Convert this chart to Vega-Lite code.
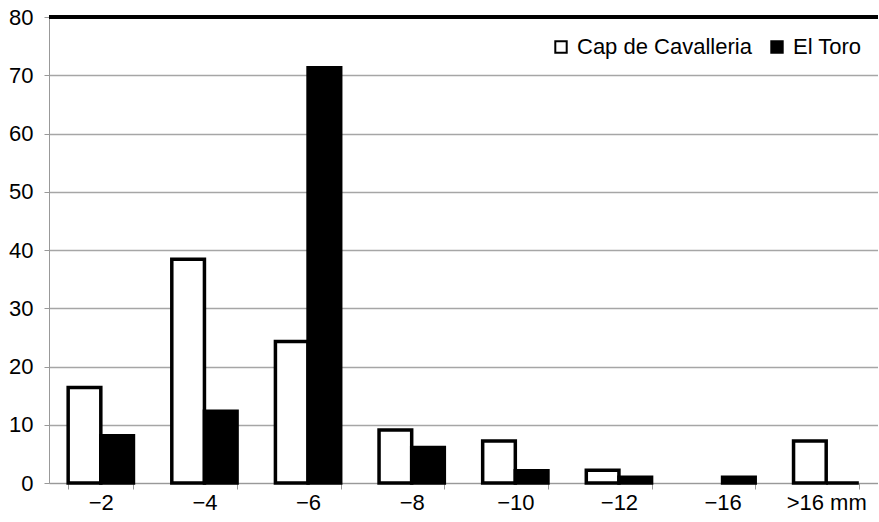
{
  "$schema": "https://vega.github.io/schema/vega-lite/v6.json",
  "width": 829,
  "height": 466,
  "autosize": {"type": "none"},
  "padding": {"left": 49, "top": 17, "right": 0, "bottom": 39},
  "config": {
    "view": {"stroke": null},
    "font": "Liberation Sans",
    "axis": {"labelFont": "Liberation Sans", "labelColor": "black", "labelFontSize": 22}
  },
  "data": {
    "values": [
      {"size": "−2", "series": "Cap de Cavalleria", "value": 16.4},
      {"size": "−2", "series": "El Toro", "value": 8.1},
      {"size": "−4", "series": "Cap de Cavalleria", "value": 38.4},
      {"size": "−4", "series": "El Toro", "value": 12.3},
      {"size": "−6", "series": "Cap de Cavalleria", "value": 24.3},
      {"size": "−6", "series": "El Toro", "value": 71.3},
      {"size": "−8", "series": "Cap de Cavalleria", "value": 9.1},
      {"size": "−8", "series": "El Toro", "value": 6.1},
      {"size": "−10", "series": "Cap de Cavalleria", "value": 7.2},
      {"size": "−10", "series": "El Toro", "value": 2.1},
      {"size": "−12", "series": "Cap de Cavalleria", "value": 2.2},
      {"size": "−12", "series": "El Toro", "value": 1.0},
      {"size": "−16", "series": "Cap de Cavalleria", "value": 0},
      {"size": "−16", "series": "El Toro", "value": 1.0},
      {"size": ">16 mm", "series": "Cap de Cavalleria", "value": 7.2},
      {"size": ">16 mm", "series": "El Toro", "value": 0}
    ]
  },
  "layer": [
    {
      "mark": {"type": "bar", "stroke": "black", "strokeWidth": 3.5},
      "encoding": {
        "x": {
          "field": "size", "type": "nominal", "sort": null,
          "scale": {"paddingInner": 0.37, "paddingOuter": 0.185},
          "axis": {
            "title": null, "labelAngle": 0, "tickBand": "extent",
            "domainColor": "#999999", "tickColor": "#999999", "tickSize": 6,
            "labelPadding": 3, "grid": false
          }
        },
        "xOffset": {"field": "series", "type": "nominal"},
        "y": {
          "field": "value", "type": "quantitative",
          "scale": {"domain": [0, 80], "nice": false},
          "axis": {
            "title": null, "values": [0, 10, 20, 30, 40, 50, 60, 70, 80],
            "grid": true, "gridColor": "#a6a6a6", "gridWidth": 1.5,
            "domainColor": "#999999", "tickColor": "#999999", "tickSize": 5,
            "labelPadding": 11
          }
        },
        "fill": {
          "field": "series", "type": "nominal",
          "scale": {"domain": ["Cap de Cavalleria", "El Toro"], "range": ["white", "black"]},
          "legend": {
            "title": null, "orient": "none", "legendX": 501, "legendY": 19, "direction": "horizontal",
            "symbolType": "square", "symbolSize": 130, "symbolStrokeColor": "black",
            "symbolStrokeWidth": 2, "labelFontSize": 22, "labelFont": "Liberation Sans",
            "labelColor": "black", "labelLimit": 400, "columnPadding": 14, "padding": 0, "labelOffset": 5,
            "symbolOpacity": 1
          }
        },
        "strokeOpacity": {
          "condition": {"test": "datum.value > 0 || datum.series == 'El Toro'", "value": 1},
          "value": 0
        }
      }
    },
    {
      "mark": {"type": "rule", "color": "black", "strokeWidth": 2.5},
      "encoding": {"y": {"datum": 80}}
    }
  ]
}
